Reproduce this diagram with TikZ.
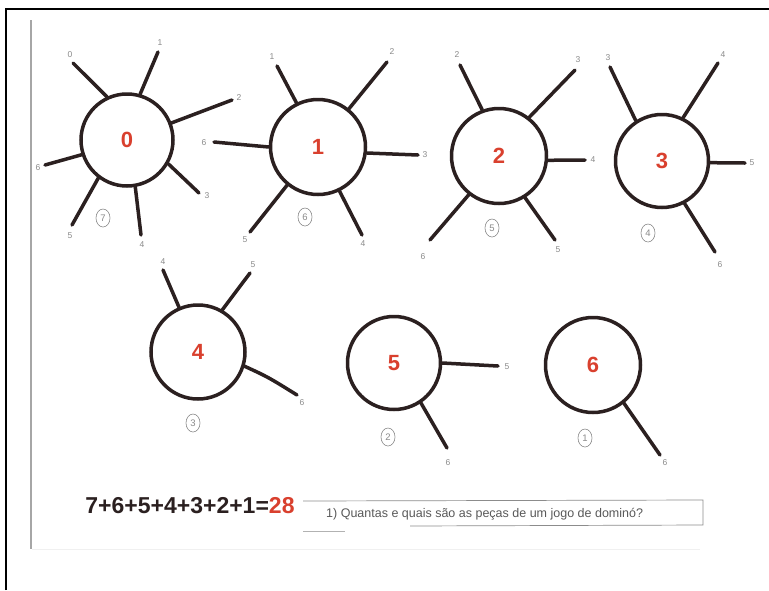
\documentclass[tikz,border=0pt]{standalone}
\usepackage{fontspec}
\setmainfont{Liberation Sans}
\usetikzlibrary{shapes.geometric}
\definecolor{ink}{HTML}{2B2020}
\definecolor{redink}{HTML}{D9402E}
\definecolor{pencil}{HTML}{8A8A8A}
\newcommand{\myspoke}[5]{%
  \coordinate (#1-#5-e) at (#3);
  \node[lbl] (#1-#5-l) at (#4) {#5};
  \draw[spk] (#1.#2) -- (#1-#5-e);}
\begin{document}
\begin{tikzpicture}[x=1pt,y=-1pt,
  bigc/.style={circle,draw=ink,line width=3.5pt,minimum size=92pt,inner sep=0pt,
    font=\fontsize{22}{22}\selectfont\bfseries,text=redink},
  spk/.style={draw=ink,line width=3.5pt,line cap=round},
  lbl/.style={font=\fontsize{8.5}{8.5}\selectfont,text=pencil,inner sep=0pt},
  cnt/.style={ellipse,draw=pencil,line width=0.6pt,minimum width=14pt,minimum height=18pt,
    inner sep=0pt,font=\fontsize{9.5}{9.5}\selectfont,text=pencil}]
\useasboundingbox (0,0) rectangle (769,590);
\fill[white] (0,0) rectangle (769,590);
% frame
\draw[black,line width=2pt] (6,590) -- (6,9) -- (769,9);
\draw[gray!70,line width=2pt] (31,20) -- (31,549);
\draw[gray!12,line width=1pt] (32,549) -- (700,549);
% circles
\node[bigc] (c0) at (127,140) {0};
\node[bigc,minimum size=95pt] (c1) at (318,147) {1};
\node[bigc,minimum size=95pt] (c2) at (499,156) {2};
\node[bigc,minimum size=93pt] (c3) at (662,161) {3};
\node[bigc,minimum size=94pt] (c4) at (198,352) {4};
\node[bigc,minimum size=93pt] (c5) at (394,363) {5};
\node[bigc,minimum size=95pt] (c6) at (593,365) {6};
% spokes of 0
\myspoke{c0}{115}{73,63}{70,55}{0}
\myspoke{c0}{74}{158,52}{160,43}{1}
\myspoke{c0}{21}{232,100}{239,98}{2}
\myspoke{c0}{-30}{199,193}{207,196}{3}
\myspoke{c0}{-80}{141,235}{142,245}{4}
\myspoke{c0}{-127}{72,225}{70,236}{5}
\myspoke{c0}{198}{45,165}{38,168}{6}
% spokes of 1
\myspoke{c1}{116}{277,66}{272,57}{1}
\myspoke{c1}{51}{387,62}{392,52}{2}
\myspoke{c1}{-7}{418,155}{425,155}{3}
\myspoke{c1}{-64}{362,235}{363,244}{4}
\myspoke{c1}{-129}{250,232}{245,240}{5}
\myspoke{c1}{180}{214,142}{204,143}{6}
% spokes of 2
\myspoke{c2}{110}{460,65}{457,55}{2}
\myspoke{c2}{52}{575,70}{578,60}{3}
\myspoke{c2}{-5}{585,160}{593,160}{4}
\myspoke{c2}{-58}{555,240}{558,250}{5}
\myspoke{c2}{-128}{430,240}{423,257}{6}
% spokes of 3
\myspoke{c3}{123}{610,67}{608,58}{3}
\myspoke{c3}{64}{718,63}{723,55}{4}
\myspoke{c3}{-2}{745,163}{752,163}{5}
\myspoke{c3}{-62}{715,252}{720,265}{6}
% spokes of 4
\myspoke{c4}{113}{163,270}{163,262}{4}
\myspoke{c4}{60}{250,273}{253,265}{5}
\coordinate (c4-6-e) at (297,395);
\coordinate (c4-6-m) at (268,377);
\node[lbl] (c4-6-l) at (302,403) {6};
\draw[spk] (c4.-17) .. controls (c4-6-m) .. (c4-6-e);
% spokes of 5
\myspoke{c5}{0}{498,366}{507,367}{5}
\myspoke{c5}{-56}{447,448}{448,463}{6}
% spokes of 6
\myspoke{c6}{-51}{660,455}{665,463}{6}
% counts
\node[cnt] (n0) at (103,218) {7};
\node[cnt] (n1) at (305,217) {6};
\node[cnt] (n2) at (492,228) {5};
\node[cnt] (n3) at (648,233) {4};
\node[cnt] (n4) at (193,423) {3};
\node[cnt] (n5) at (388,437) {2};
\node[cnt] (n6) at (585,438) {1};
% bottom
\node[font=\fontsize{23}{23}\selectfont\bfseries,text=ink,inner sep=0pt] (sum) at (190,506)
  {7+6+5+4+3+2+1=\textcolor{redink}{28}};
\node[font=\fontsize{12.5}{12.5}\selectfont,text=black!65,inner sep=0pt,anchor=west] (q) at (326,514)
  {1) Quantas e quais são as peças de um jogo de dominó?};
\draw[black!45,line width=0.7pt] (303,501) -- (703,500) -- (703,525) -- (410,526);
\draw[black!30,line width=0.7pt] (303,531) -- (345,531);
\end{tikzpicture}
\end{document}
